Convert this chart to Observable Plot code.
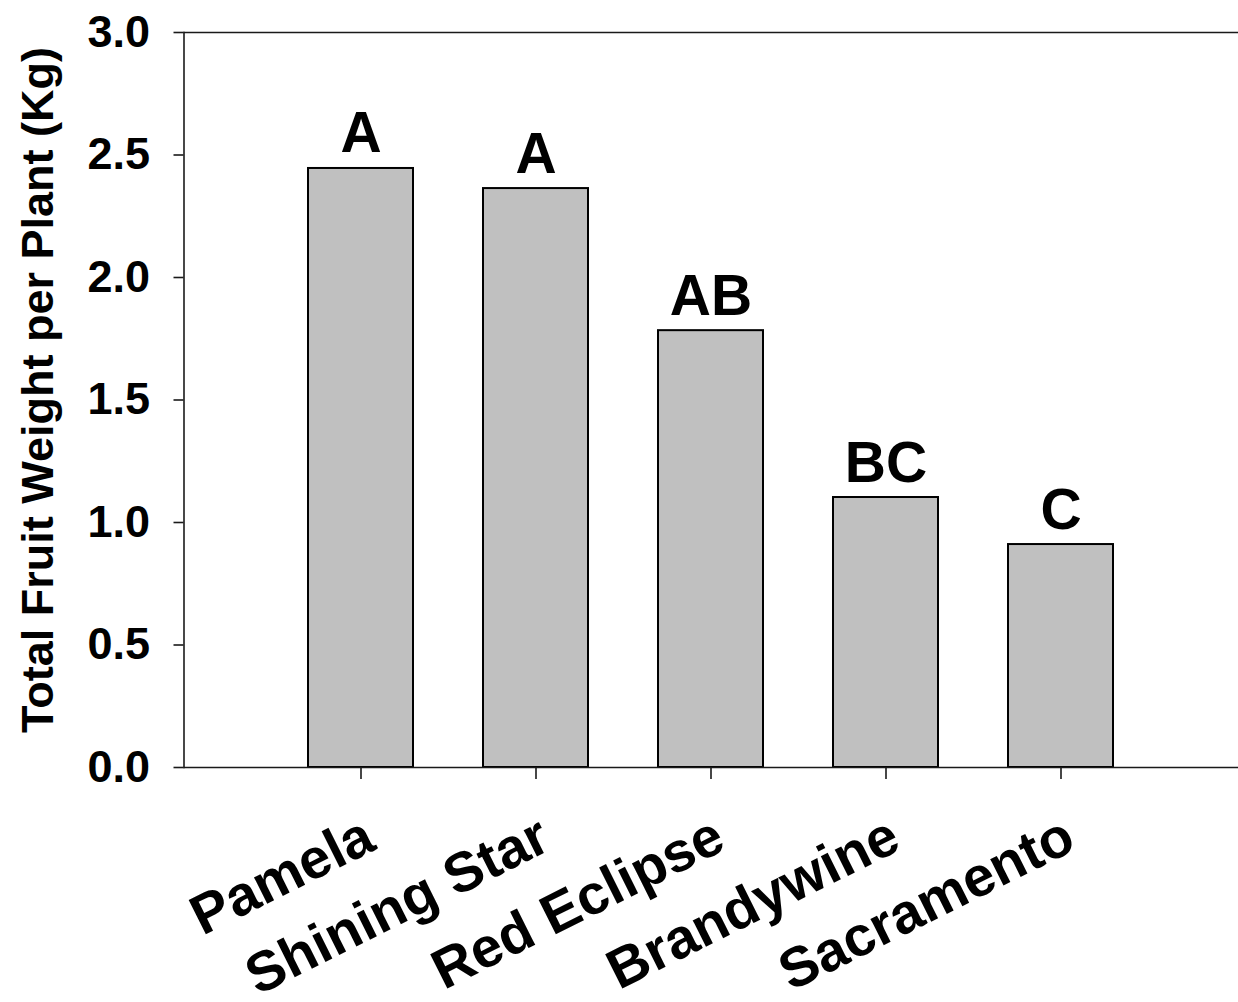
<!DOCTYPE html>
<html>
<head>
<meta charset="utf-8">
<script src="https://cdn.jsdelivr.net/npm/d3@7"></script>
<script src="https://cdn.jsdelivr.net/npm/@observablehq/plot@0.6"></script>
<style>
  html, body { margin: 0; padding: 0; background: #fff; }
  #chart { width: 1238px; height: 1002px; }
</style>
</head>
<body>
<div id="chart"></div>
<script>
const cultivars = ["Pamela", "Shining Star", "Red Eclipse", "Brandywine", "Sacramento"];
const weights = [2.445, 2.363, 1.783, 1.102, 0.91];
const groups = ["A", "A", "AB", "BC", "C"];
const yTicks = [0, 0.5, 1.0, 1.5, 2.0, 2.5, 3.0];
const yTitle = "Total Fruit Weight per Plant (Kg)";

const data = cultivars.map((name, i) => ({name, value: weights[i], group: groups[i]}));

const font = "'Liberation Sans', Arial, Helvetica, sans-serif";
const lineColor = "#1a1a1a";

const chart = Plot.plot({
  width: 1238,
  height: 1002,
  marginLeft: 183.5,
  marginRight: 0,
  marginTop: 32,
  marginBottom: 235,
  style: {fontFamily: font, background: "#fff", color: "#000", overflow: "visible"},
  x: {type: "band", domain: cultivars, paddingInner: 0.4, paddingOuter: 0.7, align: 0.5},
  y: {domain: [0, 3]},
  marks: [
    Plot.barY(data, {x: "name", y: "value", fill: "#c0c0c0", stroke: "#000", strokeWidth: 2}),
    Plot.ruleY([0, 3], {stroke: lineColor, strokeWidth: 1.6}),
    Plot.frame({anchor: "left", stroke: lineColor, strokeWidth: 1.6}),
    Plot.axisY({
      ticks: yTicks, tickSize: 10, tickPadding: 24, tickFormat: d3.format(".1f"),
      fontSize: 45, fontWeight: "bold", stroke: lineColor, strokeWidth: 1.6, fill: "#000", label: null
    }),
    Plot.axisX({tickSize: 12, fill: null, stroke: lineColor, strokeWidth: 1.6, label: null}),
    Plot.text(data, {
      x: "name", y: 0, text: "name", rotate: -26.5, textAnchor: "end", lineAnchor: "bottom",
      dx: 17, dy: 81, fontSize: 56, fontWeight: "bold", fill: "#000"
    }),
    Plot.text(data, {
      x: "name", y: "value", text: "group", lineAnchor: "bottom", dy: -16,
      fontSize: 57, fontWeight: "bold", fill: "#000"
    }),
    Plot.text([yTitle], {
      frameAnchor: "left", rotate: -90, textAnchor: "middle", lineAnchor: "middle", dx: -145, dy: -10,
      fontSize: 45, fontWeight: "bold", fill: "#000"
    })
  ]
});

document.getElementById("chart").appendChild(chart);
</script>
</body>
</html>
